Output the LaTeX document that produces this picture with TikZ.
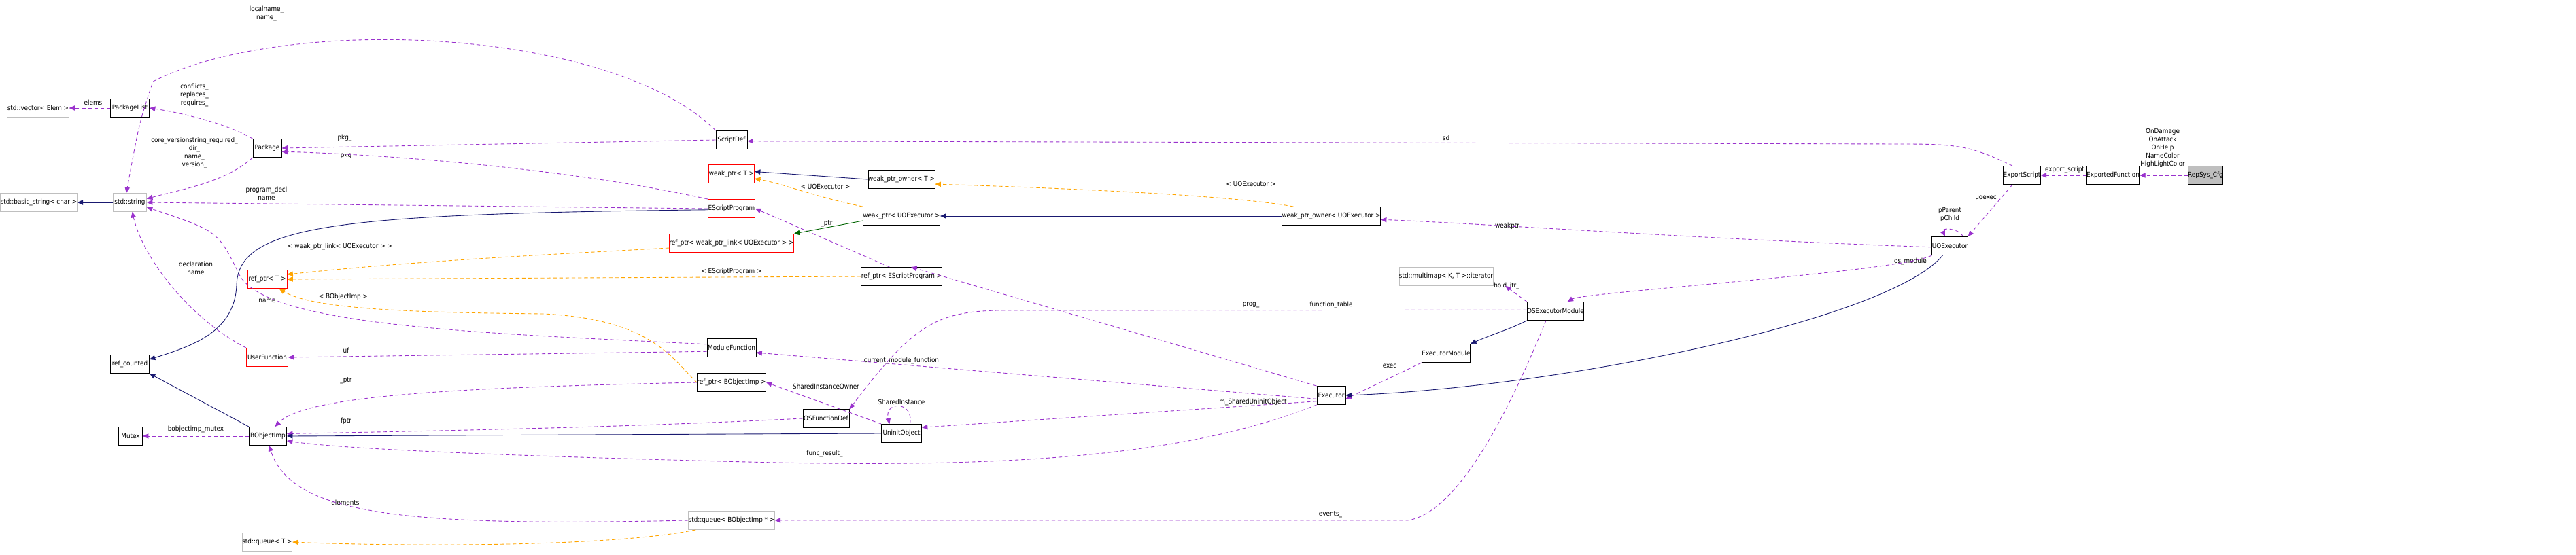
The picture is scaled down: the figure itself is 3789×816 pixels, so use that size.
\documentclass[tikz,border=0pt]{standalone}
\usepackage{fontspec}
\setmainfont{DejaVu Sans Condensed}
\usetikzlibrary{arrows.meta}
\definecolor{usec}{HTML}{9A32CD}
\definecolor{inhc}{HTML}{191970}
\definecolor{tplc}{HTML}{FFA500}
\definecolor{grnc}{HTML}{006400}
\definecolor{extc}{HTML}{BFBFBF}
\begin{document}
\begin{tikzpicture}[x=0.02cm,y=-0.02cm,
  every node/.style={font=\fontsize{5.6}{6.8}\selectfont, inner sep=0pt},
  box/.style={draw=black, line width=0.5pt, minimum height=0.54cm, minimum width=#1*0.02cm},
  rbox/.style={box=#1, draw=red},
  ebox/.style={box=#1, draw=extc},
  cbox/.style={box=#1, fill=extc},
  lab/.style={align=center},
  tip/.style={-{Triangle[width=4.2pt,length=4.8pt]}},
  use/.style={tip, draw=usec, line width=0.5pt, dash pattern=on 3pt off 2.2pt},
  inh/.style={tip, draw=inhc, line width=0.5pt},
  tpl/.style={tip, draw=tplc, line width=0.5pt, dash pattern=on 3pt off 2.2pt},
  grn/.style={tip, draw=grnc, line width=0.5pt}]
\useasboundingbox (0,0) rectangle (3789,816);
% nodes
\node[ebox=87] (vec) at (56,159) {std::vector< Elem >};
\node[box=57] (plist) at (191,159) {PackageList};
\node[box=42] (pkg) at (393,218) {Package};
\node[ebox=106] (bstr) at (57,298) {std::basic\_string< char >};
\node[ebox=49] (str) at (191,298) {std::string};
\node[rbox=58] (rpt) at (393,411) {ref\_ptr< T >};
\node[box=57] (rc) at (191,536) {ref\_counted};
\node[rbox=61] (uf) at (393,526) {UserFunction};
\node[box=35] (mutex) at (192,642) {Mutex};
\node[box=55] (bo) at (394,642) {BObjectImp};
\node[ebox=73] (qt) at (393,798) {std::queue< T >};
\node[box=46] (sdef) at (1076,206) {ScriptDef};
\node[rbox=67] (wpt) at (1076,256) {weak\_ptr< T >};
\node[rbox=69] (esp) at (1076,307) {EScriptProgram};
\node[rbox=165] (rpwl) at (1076,358) {ref\_ptr< weak\_ptr\_link< UOExecutor > >};
\node[box=94] (wpot) at (1326,264) {weak\_ptr\_owner< T >};
\node[box=108] (wpu) at (1326,318) {weak\_ptr< UOExecutor >};
\node[box=111] (rpe) at (1326,407) {ref\_ptr< EScriptProgram >};
\node[box=72] (mf) at (1076,512) {ModuleFunction};
\node[box=97] (rpb) at (1076,563) {ref\_ptr< BObjectImp >};
\node[box=68] (osf) at (1215,616) {OSFunctionDef};
\node[box=59] (uo) at (1326,638) {UninitObject};
\node[ebox=118] (qb) at (1076,766) {std::queue< BObjectImp * >};
\node[box=127] (wpou) at (1958,318) {weak\_ptr\_owner< UOExecutor >};
\node[ebox=121] (mm) at (2127,407) {std::multimap< K, T >::iterator};
\node[box=83] (osem) at (2288,458) {OSExecutorModule};
\node[box=68] (em) at (2127,520) {ExecutorModule};
\node[box=42] (ex) at (1958,582) {Executor};
\node[box=53] (es) at (2974,258) {ExportScript};
\node[box=71] (ef) at (3108,258) {ExportedFunction};
\node[cbox=51] (rs) at (3244,258) {RepSys\_Cfg};
\node[box=51] (uoe) at (2868,362) {UOExecutor};
% labels
\node[lab] (l1) at (137,151) {elems};
\node[lab] (l2) at (286,140) {conflicts\_\\replaces\_\\requires\_};
\node[lab] (l3) at (286,225) {core\_versionstring\_required\_\\dir\_\\name\_\\version\_};
\node[lab] (l4) at (392,20) {localname\_\\name\_};
\node[lab] (l5) at (507,203) {pkg\_};
\node[lab] (l6) at (509,229) {pkg};
\node[lab] (l7) at (392,285) {program\_decl\\name};
\node[lab] (l8) at (288,395) {declaration\\name};
\node[lab] (l9) at (393,443) {name};
\node[lab] (l10) at (509,516) {uf};
\node[lab] (l11) at (509,560) {\_ptr};
\node[lab] (l12) at (509,620) {fptr};
\node[lab] (l13) at (288,632) {bobjectimp\_mutex};
\node[lab] (l14) at (508,740) {elements};
\node[lab] (l15) at (500,363) {< weak\_ptr\_link< UOExecutor > >};
\node[lab] (l16) at (505,437) {< BObjectImp >};
\node[lab] (l17) at (1076,400) {< EScriptProgram >};
\node[lab] (l18) at (1214,275) {< UOExecutor >};
\node[lab] (l19) at (1840,271) {< UOExecutor >};
\node[lab] (l20) at (1216,329) {\_ptr};
\node[lab] (l21) at (1326,531) {current\_module\_function};
\node[lab] (l22) at (1215,569) {SharedInstanceOwner};
\node[lab] (l23) at (1326,592) {SharedInstance};
\node[lab] (l24) at (1843,592) {m\_SharedUninitObject};
\node[lab] (l25) at (1213,668) {func\_result\_};
\node[lab] (l26) at (1840,449) {prog\_};
\node[lab] (l27) at (1958,449) {function\_table};
\node[lab] (l28) at (2216,421) {hold\_itr\_};
\node[lab] (l29) at (2044,539) {exec};
\node[lab] (l30) at (1957,757) {events\_};
\node[lab] (l31) at (2127,203) {sd};
\node[lab] (l32) at (2217,333) {weakptr};
\node[lab] (l33) at (3037,250) {export\_script};
\node[lab] (l34) at (2921,291) {uoexec};
\node[lab] (l35) at (2868,316) {pParent\\pChild};
\node[lab] (l36) at (2810,385) {os\_module};
\node[lab] (l37) at (3181,218) {OnDamage\\OnAttack\\OnHelp\\NameColor\\HighLightColor};
% connectors
\draw[use] (plist.west) -- (vec.east);
\draw[use] (pkg.north west) .. controls (330,180) and (260,165) .. (plist.east);
\draw[use] (pkg.south west) .. controls (330,270) and (260,280) .. ([yshift=3pt]str.east);
\draw[use] (sdef.north west) .. controls (900,40) and (420,20) .. (225,120) .. controls (205,180) .. ([xshift=-3pt]str.north);
\draw[use] (sdef.west) -- (pkg.east);
\draw[use] (esp.north west) .. controls (800,240) and (500,225) .. ([yshift=-3pt]pkg.east);
\draw[use] (esp.west) -- (str.east);
\draw[use] (uf.north west) .. controls (280,470) and (210,380) .. ([xshift=2pt]str.south);
\draw[use] ([yshift=3pt]mf.west) .. controls (700,490) and (380,480) .. (350,400) .. controls (320,340) .. ([yshift=-4pt]str.east);
\draw[use] ([yshift=-3pt]mf.west) -- (uf.east);
\draw[inh] ([yshift=-1pt]esp.west) .. controls (500,315) and (350,330) .. (348,420) .. controls (345,490) and (280,510) .. ([yshift=4pt]rc.east);
\draw[inh] (bo.north west) -- (rc.south east);
\draw[use] (bo.west) -- (mutex.east);
\draw[use] (rpb.west) .. controls (700,570) and (450,580) .. ([xshift=6pt]bo.north);
\draw[use] (osf.west) .. controls (900,630) and (600,635) .. ([yshift=2pt]bo.east);
\draw[inh] (uo.west) -- (bo.east);
\draw[use] (ex.south west) .. controls (1750,670) and (1500,690) .. (1100,680) .. controls (700,670) and (500,660) .. ([yshift=-4pt]bo.east);
\draw[use] (qb.west) .. controls (600,775) and (430,760) .. ([xshift=1pt]bo.south);
\draw[tpl] ([xshift=-30pt]qb.south) .. controls (900,805) and (600,805) .. (qt.east);
\draw[use] ([yshift=-3pt]ex.west) -- ([yshift=-4pt]mf.east);
\draw[use] (uo.north west) -- (rpb.east);
\draw[use] ([xshift=-10pt]uo.north east) .. controls (1345,590) and (1300,590) .. ([xshift=7pt]uo.north west);
\draw[use] ([yshift=-5pt]ex.west) -- ([yshift=5pt]uo.east);
\draw[use] (ex.north west) -- ([xshift=8pt]rpe.north);
\draw[use] ([yshift=1pt]osem.west) -- (1500,457) .. controls (1380,455) and (1350,470) .. (osf.north east);
\draw[use] ([xshift=-10pt]rpe.north) -- (esp.east);
\draw[grn] ([yshift=-4pt]wpu.west) -- (rpwl.north east);
\draw[tpl] ([yshift=-4pt]rpwl.west) .. controls (800,375) and (600,385) .. ([yshift=4pt]rpt.east);
\draw[tpl] (rpe.west) -- (rpt.east);
\draw[tpl] (rpb.west) .. controls (990,530) and (960,470) .. (800,462) .. controls (600,460) and (460,455) .. ([xshift=10pt]rpt.south);
\draw[tpl] (wpu.north west) .. controls (1200,290) and (1150,270) .. ([yshift=-4pt]wpt.east);
\draw[inh] (wpot.west) -- ([yshift=2pt]wpt.east);
\draw[inh] (wpou.west) -- (wpu.east);
\draw[tpl] ([xshift=10pt]wpou.north west) .. controls (1800,285) and (1500,275) .. ([yshift=-4pt]wpot.east);
\draw[use] ([yshift=-1pt]uoe.west) .. controls (2500,352) and (2200,330) .. ([yshift=-3pt]wpou.east);
\draw[use] (osem.north west) -- ([xshift=10pt]mm.south east);
\draw[use] ([xshift=-8pt]osem.south) .. controls (2230,580) and (2150,755) .. (2070,766) -- (qb.east);
\draw[inh] (osem.south west) .. controls (2220,485) and (2200,490) .. (em.north east);
\draw[use] (em.south west) -- ([yshift=-3pt]ex.east);
\draw[inh] ([xshift=-6pt]uoe.south) .. controls (2780,470) and (2300,570) .. (ex.east);
\draw[use] (uoe.south west) .. controls (2800,400) and (2330,430) .. ([xshift=10pt]osem.north);
\draw[use] ([xshift=-4pt]uoe.north east) .. controls (2880,335) and (2855,335) .. ([xshift=-4pt]uoe.north);
\draw[use] ([xshift=-8pt]es.south) -- (uoe.north east);
\draw[use] ([xshift=-8pt]es.north) .. controls (2900,215) and (2880,212) .. (2800,212) -- ([yshift=-1pt]sdef.east);
\draw[use] (ef.west) -- (es.east);
\draw[use] (rs.west) -- (ef.east);
\draw[inh] (str.west) -- (bstr.east);
\end{tikzpicture}
\end{document}
